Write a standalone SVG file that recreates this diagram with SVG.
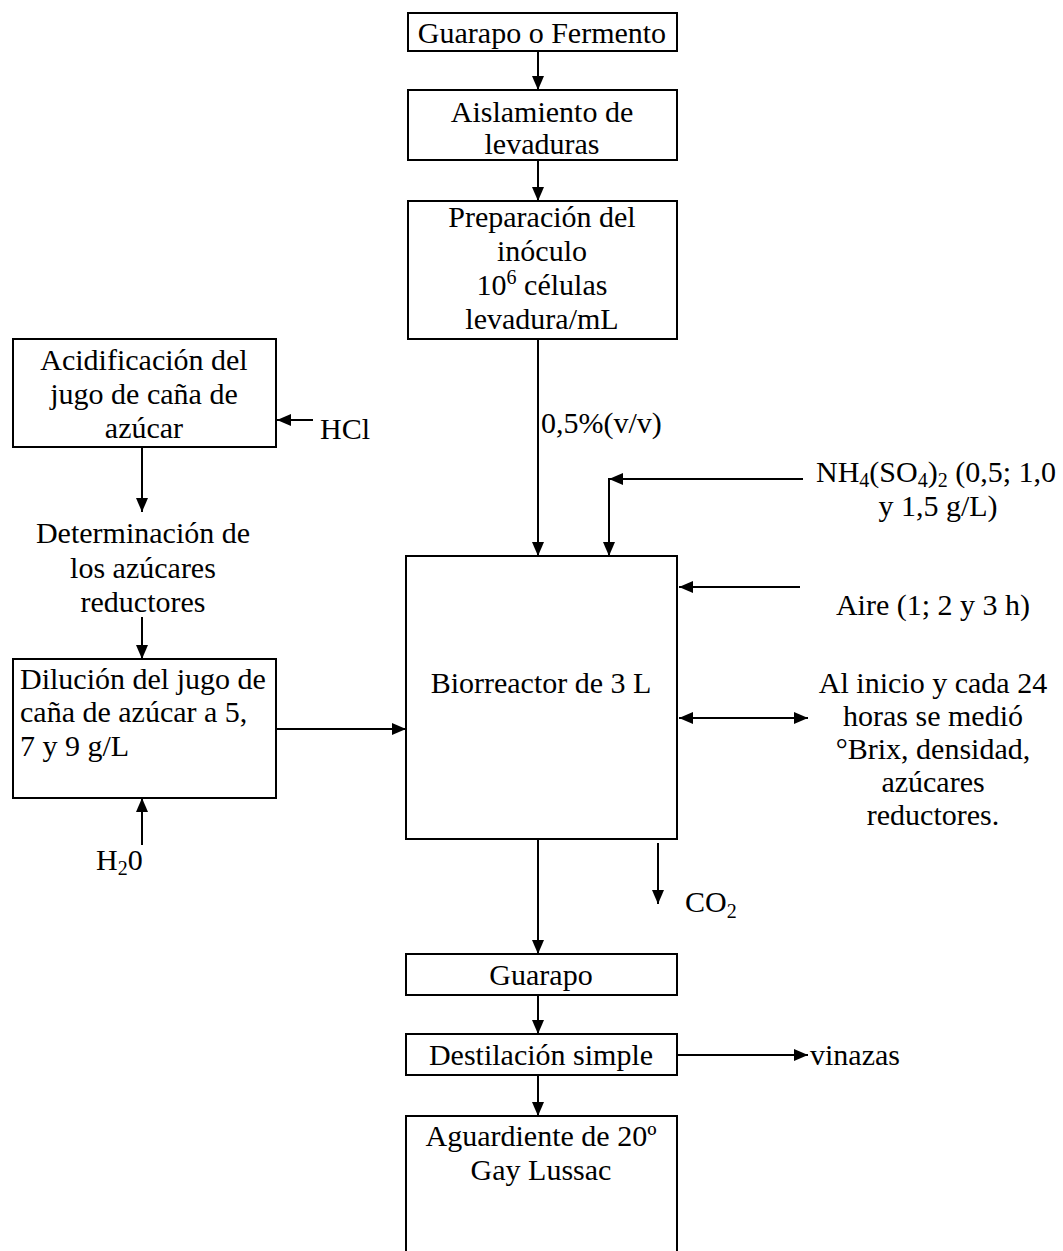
<svg xmlns="http://www.w3.org/2000/svg" width="1063" height="1251" viewBox="0 0 1063 1251">
<defs>
<marker id="ah" markerWidth="14" markerHeight="12" refX="14" refY="6" orient="auto-start-reverse" markerUnits="userSpaceOnUse"><path d="M0,0 L14,6 L0,12 Z" fill="#000"/></marker>
</defs>
<style>
text{font-family:"Liberation Serif","Times New Roman",serif;font-size:30px;fill:#000}
.c{text-anchor:middle}
.box{fill:#fff;stroke:#000;stroke-width:2}
.ln{stroke:#000;stroke-width:2;fill:none}
.ar{stroke:#000;stroke-width:2;fill:none;marker-end:url(#ah)}
.sub{font-size:20px}
</style>
<rect width="1063" height="1251" fill="#fff"/>
<g id="connectors">
<line class="ar" x1="538" y1="51" x2="538" y2="90"/>
<line class="ar" x1="538" y1="160" x2="538" y2="201"/>
<line class="ar" x1="538" y1="339" x2="538" y2="556"/>
<line class="ar" x1="142" y1="447" x2="142" y2="512"/>
<line class="ar" x1="142" y1="617" x2="142" y2="659"/>
<line class="ar" x1="142" y1="845" x2="142" y2="798"/>
<line class="ar" x1="313" y1="420" x2="277" y2="420"/>
<line class="ar" x1="276" y1="729" x2="406" y2="729"/>
<line class="ar" x1="803" y1="479" x2="609" y2="479"/>
<line class="ar" x1="609" y1="478" x2="609" y2="556"/>
<line class="ar" x1="800" y1="587" x2="679" y2="587"/>
<line class="ar" x1="679" y1="718" x2="808" y2="718" marker-start="url(#ah)"/>
<line class="ar" x1="658" y1="843" x2="658" y2="904"/>
<line class="ar" x1="538" y1="839" x2="538" y2="954"/>
<line class="ar" x1="538" y1="995" x2="538" y2="1034"/>
<line class="ar" x1="677" y1="1055" x2="808" y2="1055"/>
<line class="ar" x1="538" y1="1075" x2="538" y2="1116"/>
</g>
<g id="n1"><rect class="box" x="408" y="13" width="269" height="38"/><text class="c" x="542" y="43">Guarapo o Fermento</text></g>
<g id="n2"><rect class="box" x="408" y="90" width="269" height="70"/><text class="c" x="542" y="122">Aislamiento de</text><text class="c" x="542" y="154">levaduras</text></g>
<g id="n3"><rect class="box" x="408" y="201" width="269" height="138"/><text class="c" x="542" y="227">Preparación del</text><text class="c" x="542" y="261">inóculo</text><text class="c" x="542" y="295">10<tspan class="sub" dy="-11">6</tspan><tspan dy="11"> células</tspan></text><text class="c" x="542" y="329">levadura/mL</text></g>
<g id="n4"><rect class="box" x="13" y="339" width="263" height="108"/><text class="c" x="144" y="370">Acidificación del</text><text class="c" x="144" y="404">jugo de caña de</text><text class="c" x="144" y="438">azúcar</text></g>
<g id="n5"><text class="c" x="143" y="543">Determinación de</text><text class="c" x="143" y="578">los azúcares</text><text class="c" x="143" y="612">reductores</text></g>
<g id="n6"><rect class="box" x="13" y="659" width="263" height="139"/><text x="20" y="689">Dilución del jugo de</text><text x="20" y="722">caña de azúcar a 5,</text><text x="20" y="756">7 y 9 g/L</text></g>
<g id="n7"><rect class="box" x="406" y="556" width="271" height="283"/><text class="c" x="541" y="693">Biorreactor de 3 L</text></g>
<g id="n8"><rect class="box" x="406" y="954" width="271" height="41"/><text class="c" x="541" y="985">Guarapo</text></g>
<g id="n9"><rect class="box" x="406" y="1034" width="271" height="41"/><text class="c" x="541" y="1065">Destilación simple</text></g>
<g id="n10"><path class="box" d="M406,1253 V1116 H677 V1253"/><text class="c" x="541" y="1146">Aguardiente de 20º</text><text class="c" x="541" y="1180">Gay Lussac</text></g>
<g id="labels">
<text x="320" y="439">HCl</text>
<text x="96" y="870">H<tspan class="sub" dy="5">2</tspan><tspan dy="-5">0</tspan></text>
<text x="541" y="433">0,5%(v/v)</text>
<text x="816" y="482">NH<tspan class="sub" dy="5">4</tspan><tspan dy="-5">(SO</tspan><tspan class="sub" dy="5">4</tspan><tspan dy="-5">)</tspan><tspan class="sub" dy="5">2</tspan><tspan dy="-5"> (0,5; 1,0</tspan></text>
<text class="c" x="938" y="516">y 1,5 g/L)</text>
<text class="c" x="933" y="615">Aire (1; 2 y 3 h)</text>
<text class="c" x="933" y="693">Al inicio y cada 24</text>
<text class="c" x="933" y="726">horas se medió</text>
<text class="c" x="933" y="759">°Brix, densidad,</text>
<text class="c" x="933" y="792">azúcares</text>
<text class="c" x="933" y="825">reductores.</text>
<text x="685" y="912">CO<tspan class="sub" dy="6">2</tspan></text>
<text x="810" y="1065">vinazas</text>
</g>
</svg>
